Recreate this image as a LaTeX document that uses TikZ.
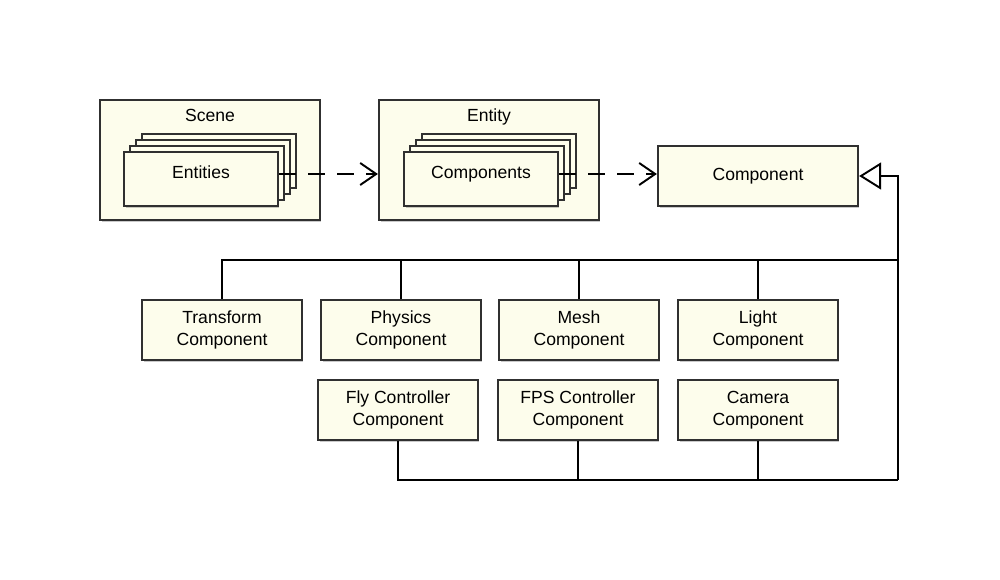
\documentclass[tikz,border=0pt]{standalone}
\usepackage{fontspec}
\setmainfont{Liberation Sans}
\usetikzlibrary{arrows.meta,shadows,positioning}
\definecolor{boxfill}{RGB}{253,253,236}
\definecolor{boxline}{RGB}{48,48,48}
\tikzset{
  umlbox/.style={draw=boxline, fill=boxfill, line width=1.3pt,
    drop shadow={shadow xshift=0.03cm, shadow yshift=-0.05cm, opacity=0.35, fill=black!60},
    minimum width=3.2cm, minimum height=1.2cm, inner sep=0pt, align=center,
    font=\fontsize{10}{12.5}\selectfont},
  stackbox/.style={draw=boxline, fill=boxfill, line width=1.3pt,
    minimum width=3.08cm, minimum height=1.08cm, inner sep=0pt},
  container/.style={draw=boxline, fill=boxfill, line width=1.3pt,
    drop shadow={shadow xshift=0.03cm, shadow yshift=-0.05cm, opacity=0.35, fill=black!60},
    minimum width=4.4cm, minimum height=2.4cm, inner sep=0pt},
  lbl/.style={font=\fontsize{10}{12}\selectfont, inner sep=0pt, text height=7.2pt, text depth=2.1pt},
  conn/.style={line width=1.1pt, black},
  depend/.style={conn, dash pattern=on 0.34cm off 0.24cm,
    -{Straight Barb[length=0.32cm, width=0.44cm, line width=1.1pt]}},
  inherit/.style={conn, -{Triangle[open, length=0.44cm, width=0.54cm, line width=1.1pt]}}
}
\begin{document}
\begin{tikzpicture}[x=0.02cm, y=-0.02cm]
\useasboundingbox (0,0) rectangle (1000,580);
% Scene
\node[container] (scene) at (210,160) {};
\node[lbl] (scenelbl) at (210,117) {Scene};
\node[stackbox] (s4) at (219,161) {};
\node[stackbox] (s3) at (213,167) {};
\node[stackbox] (s2) at (207,173) {};
\node[stackbox, drop shadow={shadow xshift=0.03cm, shadow yshift=-0.05cm, opacity=0.35, fill=black!60}] (s1) at (201,179) {};
\node[lbl] (entities) at (201,174) {Entities};
% Entity
\node[container] (entity) at (489,160) {};
\node[lbl] (entitylbl) at (489,117) {Entity};
\node[stackbox] (e4) at (499,161) {};
\node[stackbox] (e3) at (493,167) {};
\node[stackbox] (e2) at (487,173) {};
\node[stackbox, drop shadow={shadow xshift=0.03cm, shadow yshift=-0.05cm, opacity=0.35, fill=black!60}] (e1) at (481,179) {};
\node[lbl] (components) at (481,174) {Components};
% Component
\node[umlbox, minimum width=4cm] (cmp) at (758,176) {Component};
% Row 1
\node[umlbox] (tc) at (222,330) {Transform\\Component};
\node[umlbox] (pc) at (401,330) {Physics\\Component};
\node[umlbox] (mc) at (579,330) {Mesh\\Component};
\node[umlbox] (lc) at (758,330) {Light\\Component};
% Row 2
\node[umlbox] (fc) at (398,410) {Fly Controller\\Component};
\node[umlbox] (fpc) at (578,410) {FPS Controller\\Component};
\node[umlbox] (cc) at (758,410) {Camera\\Component};
% Dependencies
\draw[depend] (s1.east |- entities) -- (entity.west |- entities);
\draw[depend] (e1.east |- components) -- (cmp.west |- components);
% Inheritance
\coordinate (j1) at (898,176);
\coordinate (j2) at (898,260);
\coordinate (j3) at (898,480);
\draw[inherit] (j3) -- (j1) -- (cmp.east);
\draw[conn] (tc.north) |- (j2);
\draw[conn] (pc.north) -- (pc.north |- j2);
\draw[conn] (mc.north) -- (mc.north |- j2);
\draw[conn] (lc.north) -- (lc.north |- j2);
\draw[conn] (fc.south) |- (j3);
\draw[conn] (fpc.south) -- (fpc.south |- j3);
\draw[conn] (cc.south) -- (cc.south |- j3);
\end{tikzpicture}
\end{document}
